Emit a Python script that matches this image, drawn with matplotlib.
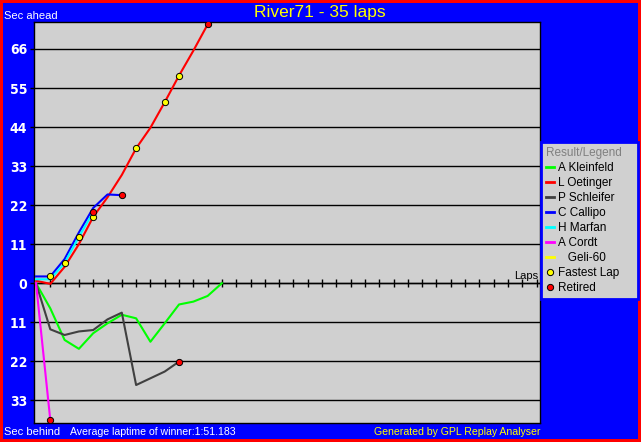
import matplotlib
matplotlib.use("Agg")
import matplotlib.pyplot as plt
from matplotlib.lines import Line2D
from matplotlib.ticker import FuncFormatter

# gap to the leader in seconds, one value per lap (lap 0 = start)
drivers = ['A Kleinfeld', 'L Oetinger', 'P Schleifer', 'C Callipo', 'H Marfan', 'A Cordt']
colors = ['#00FF00', '#FF0000', '#404040', '#0000FF', '#00FFFF', '#FF00FF']
gaps = {
    'A Kleinfeld': [0, -7.1, -16.0, -18.5, -14.1, -11.3, -8.9, -9.9, -16.5, -11.3, -6.0, -5.2, -3.6, 0],
    'L Oetinger': [0.7, -0.2, 4.6, 11.0, 18.7, 24.2, 30.5, 38.0, 43.8, 51.0, 58.5, 65.5, 72.9],
    'P Schleifer': [0, -13.0, -14.6, -13.6, -13.2, -10.2, -8.3, -28.7, -26.8, -24.9, -22.1],
    'C Callipo': [1.9, 1.9, 6.8, 14.3, 21.2, 25.0, 24.8],
    'H Marfan': [1.1, 1.1, 5.7, 13.1, 20.0],
    'A Cordt': [0, -38.6],
}
retired = ['L Oetinger', 'P Schleifer', 'C Callipo', 'H Marfan', 'A Cordt']
fastest_laps = [('C Callipo', 1), ('H Marfan', 2), ('H Marfan', 3), ('L Oetinger', 4),
                ('L Oetinger', 7), ('L Oetinger', 9), ('L Oetinger', 10)]
total_laps = 35
yticks = [-33, -22, -11, 0, 11, 22, 33, 44, 55, 66]

W, H = 641, 442
fig = plt.figure(figsize=(W / 100, H / 100), dpi=100)
fig.patch.set_facecolor('#0000FF')
fig.patch.set_edgecolor('#FF0000')
fig.patch.set_linewidth(3)

l, r, t, b = 34, 540, 22, 423
ax = fig.add_axes([l / W, 1 - b / H, (r - l) / W, (b - t) / H])
ax.set_facecolor('#D0D0D0')
ymin, ymax = -39.4, 73.6
ax.set_xlim(-0.14, 35.24)
ax.set_ylim(ymin, ymax)

for name, col in zip(drivers, colors):
    y = gaps[name]
    ax.plot(range(len(y)), y, color=col, lw=1.5, zorder=3)

for name, lap in fastest_laps:
    ax.plot(lap, gaps[name][lap], 'o', ms=4.5, mfc='#FFFF00', mec='black', mew=0.7, zorder=5)
for name in retired:
    y = gaps[name]
    ax.plot(len(y) - 1, y[-1], 'o', ms=4.5, mfc='#FF0000', mec='black', mew=0.7, zorder=5)

ax.set_yticks(yticks)
ax.yaxis.set_major_formatter(FuncFormatter(lambda v, p: f'{abs(int(v))}'))
ax.tick_params(axis='y', length=3, width=1, color='black', labelcolor='white', pad=2)
for lab in ax.get_yticklabels():
    lab.set_family('DejaVu Sans')
    lab.set_stretch('condensed')
    lab.set_fontweight('bold')
    lab.set_fontsize(10)
ax.set_xticks([])
ax.grid(axis='y', color='black', lw=1.0)
ax.set_axisbelow(True)
for s in ax.spines.values():
    s.set_color('black')
    s.set_linewidth(1.0)

# lap axis drawn along the zero line
zero = ax.secondary_xaxis((0 - ymin) / (ymax - ymin))
zero.set_xticks(range(1, total_laps + 1))
zero.tick_params(direction='inout', length=6, width=1, labelbottom=False, labeltop=False)
zero.spines['bottom'].set_linewidth(1.0)
ax.text(35.15, 0.5, 'Laps', ha='right', va='bottom', fontsize=8, color='black', family='Liberation Sans')

font = ['Liberation Sans', 'DejaVu Sans']
fig.text(320 / W, 1 - 13 / H, 'River71 - 35 laps', ha='center', va='center', color='#FFFF00',
         fontsize=12.5, family=font)
fig.text(4 / W, 1 - 16 / H, 'Sec ahead', ha='left', va='center', color='white', fontsize=8, family=font)
fig.text(4 / W, 1 - 432 / H, 'Sec behind', ha='left', va='center', color='white', fontsize=8, family=font)
fig.text(70 / W, 1 - 432 / H, 'Average laptime of winner:1:51.183', ha='left', va='center',
         color='white', fontsize=7.6, family=font)
fig.text(540 / W, 1 - 432 / H, 'Generated by GPL Replay Analyser', ha='right', va='center',
         color='#FFFF00', fontsize=7.6, family=font)

handles = [Line2D([], [], color=c, lw=2) for c in colors]
handles.append(Line2D([], [], color='#FFFF00', lw=2))
handles.append(Line2D([], [], ls='', marker='o', ms=4.5, mfc='#FFFF00', mec='black', mew=0.7))
handles.append(Line2D([], [], ls='', marker='o', ms=4.5, mfc='#FF0000', mec='black', mew=0.7))
labels = drivers + ['   Geli-60', 'Fastest Lap', 'Retired']
leg = fig.legend(handles, labels, loc='upper left',
                 bbox_to_anchor=(541 / W, 1 - 297 / H, 97 / W, 155 / H), mode='expand',
                 title='Result/Legend', prop={'family': font, 'size': 8.5},
                 title_fontproperties={'family': font, 'size': 8.5}, frameon=True,
                 fancybox=False, handlelength=0.7, handletextpad=0.3, labelspacing=0.26,
                 borderpad=0.4, borderaxespad=0, alignment='left')
leg.get_title().set_color('#808080')
leg.get_frame().set_facecolor('#D0D0D0')
leg.get_frame().set_edgecolor('#0000FF')
leg.get_frame().set_linewidth(2)
leg.get_frame().set_alpha(1)

fig.savefig('out.png', dpi=100, facecolor=fig.get_facecolor(), edgecolor=fig.get_edgecolor())
